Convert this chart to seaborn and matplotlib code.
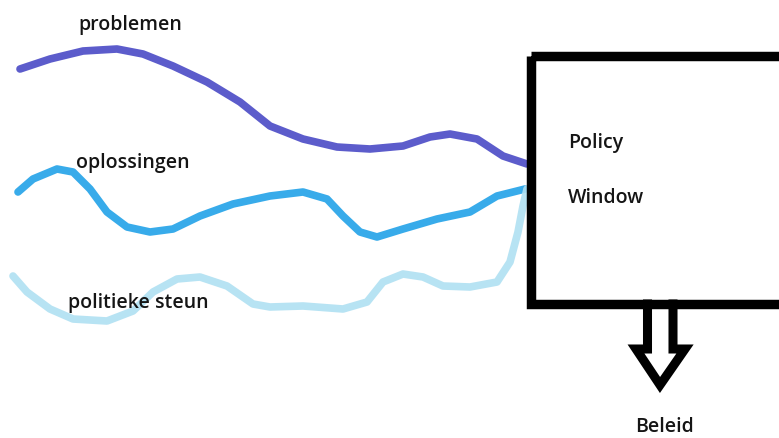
import pandas as pd
import seaborn as sns
import matplotlib.pyplot as plt
from matplotlib.patches import Rectangle

# Hand-drawn streams (pixel coordinates, y downwards)
problemen_x = [20, 50, 83, 117, 143, 173, 207, 240, 270, 303, 337, 370, 403, 430, 450, 477, 503, 527]
problemen_y = [70, 60, 52, 50, 55, 67, 83, 103, 127, 140, 148, 150, 147, 138, 135, 140, 157, 165]

oplossingen_x = [18, 33, 57, 73, 90, 107, 127, 150, 173, 200, 233, 270, 303, 327, 343, 360, 377, 403, 437, 470, 497, 525]
oplossingen_y = [193, 180, 170, 173, 190, 213, 228, 233, 230, 217, 205, 197, 193, 200, 217, 233, 238, 230, 220, 213, 197, 190]

steun_x = [13, 27, 50, 73, 107, 133, 153, 177, 200, 227, 253, 270, 303, 343, 367, 383, 403, 423, 443, 470, 497, 510, 518, 523, 527]
steun_y = [277, 293, 310, 320, 322, 312, 293, 280, 278, 287, 305, 308, 307, 310, 303, 283, 275, 278, 287, 288, 283, 263, 233, 207, 190]

stream_names = ['problemen', 'oplossingen', 'politieke steun']
stream_colors = ['#4a4ac6', '#22a2e8', '#b0e0f2']

df = pd.concat([
    pd.DataFrame({'x': problemen_x, 'y': problemen_y, 'stroom': 'problemen'}),
    pd.DataFrame({'x': oplossingen_x, 'y': oplossingen_y, 'stroom': 'oplossingen'}),
    pd.DataFrame({'x': steun_x, 'y': steun_y, 'stroom': 'politieke steun'}),
])

plt.rcParams['font.family'] = ['Open Sans', 'DejaVu Sans']

fig = plt.figure(figsize=(7.79, 4.39), dpi=100)
ax = fig.add_axes([0, 0, 1, 1])

sns.lineplot(data=df, x='x', y='y', hue='stroom', hue_order=stream_names,
             palette=dict(zip(stream_names, stream_colors)), sort=False,
             estimator=None, linewidth=5.5, alpha=0.9, legend=False,
             solid_capstyle='round', ax=ax)

# labels of the streams
txt = '#151515'
fs = 14
fw = 'semibold'
ax.text(130, 25, 'problemen', ha='center', va='center', fontsize=fs, color=txt, fontweight=fw)
ax.text(133, 163, 'oplossingen', ha='center', va='center', fontsize=fs, color=txt, fontweight=fw)
ax.text(138, 303, 'politieke steun', ha='center', va='center', fontsize=fs, color=txt, fontweight=fw)

# policy window box (right side runs off the picture)
ax.add_patch(Rectangle((531.5, 57), 300, 247.5, fill=False, edgecolor='black',
                       linewidth=6.8, joinstyle='miter', zorder=3))
ax.text(568, 143, 'Policy', ha='left', va='center', fontsize=fs, color=txt, fontweight=fw)
ax.text(568, 198, 'Window', ha='left', va='center', fontsize=fs, color=txt, fontweight=fw)

# hollow arrow to "Beleid"
arrow_x = [647.5, 647.5, 636, 660, 685, 673, 673]
arrow_y = [305, 350, 350, 386, 350, 350, 305]
ax.plot(arrow_x, arrow_y, color='black', linewidth=6.5, solid_joinstyle='miter', zorder=3)
ax.text(665, 437, 'Beleid', ha='center', va='bottom', fontsize=fs, color=txt, fontweight=fw)

ax.set_xlim(0, 779)
ax.set_ylim(439, 0)
ax.axis('off')

fig.savefig('out.png', dpi=100)
